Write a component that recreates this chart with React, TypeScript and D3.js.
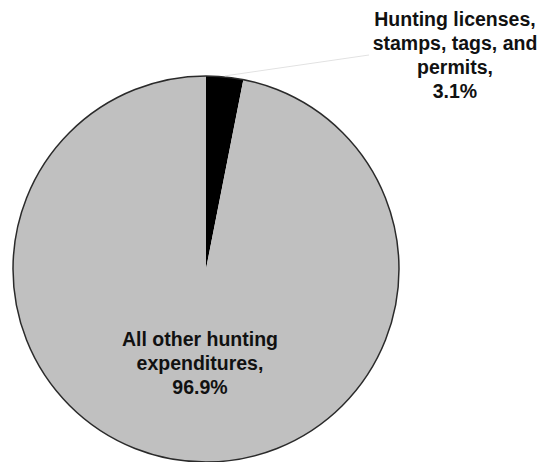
import React from "react";
import * as d3 from "d3";

const categories = ["Hunting licenses, stamps, tags, and permits", "All other hunting expenditures"];
const values = [3.1, 96.9];
const colors = ["#000000", "#c0c0c0"];
const labelLines = [
  ["Hunting licenses,", "stamps, tags, and", "permits,", "3.1%"],
  ["All other hunting", "expenditures,", "96.9%"],
];

export default function App() {
  const W = 538, H = 462;
  const cx = 206, cy = 269, r = 193;
  const pie = d3.pie<number>().sort(null).value((d) => d)(values);
  const arc = d3.arc<d3.PieArcDatum<number>>().innerRadius(0).outerRadius(r);
  const font = "'Liberation Sans', Arial, sans-serif";
  const a0 = pie[0];
  const mid = (a0.startAngle + a0.endAngle) / 2;
  const lx0 = cx + Math.sin(mid) * (r + 1);
  const ly0 = cy - Math.cos(mid) * (r + 1);
  return (
    <svg width={W} height={H} style={{ position: "absolute", left: 0, top: 0, background: "#fff" }}>
      <g transform={`translate(${cx},${cy})`}>
        {pie.map((p, i) => (
          <path key={categories[i]} d={arc(p) || ""} fill={colors[i]} stroke="none" />
        ))}
        <circle r={r} fill="none" stroke="#2a2a2a" strokeWidth={1.5} />
      </g>
      <line x1={lx0} y1={ly0} x2={369} y2={55} stroke="#e2e2e2" strokeWidth={1} />
      <text fontFamily={font} fontWeight="bold" fontSize={19.5} fill="#111" textAnchor="middle">
        {labelLines[0].map((t, i) => (
          <tspan key={i} x={455} y={26 + i * 24}>{t}</tspan>
        ))}
      </text>
      <text fontFamily={font} fontWeight="bold" fontSize={19.5} fill="#111" textAnchor="middle">
        {labelLines[1].map((t, i) => (
          <tspan key={i} x={200} y={346 + i * 24}>{t}</tspan>
        ))}
      </text>
    </svg>
  );
}
